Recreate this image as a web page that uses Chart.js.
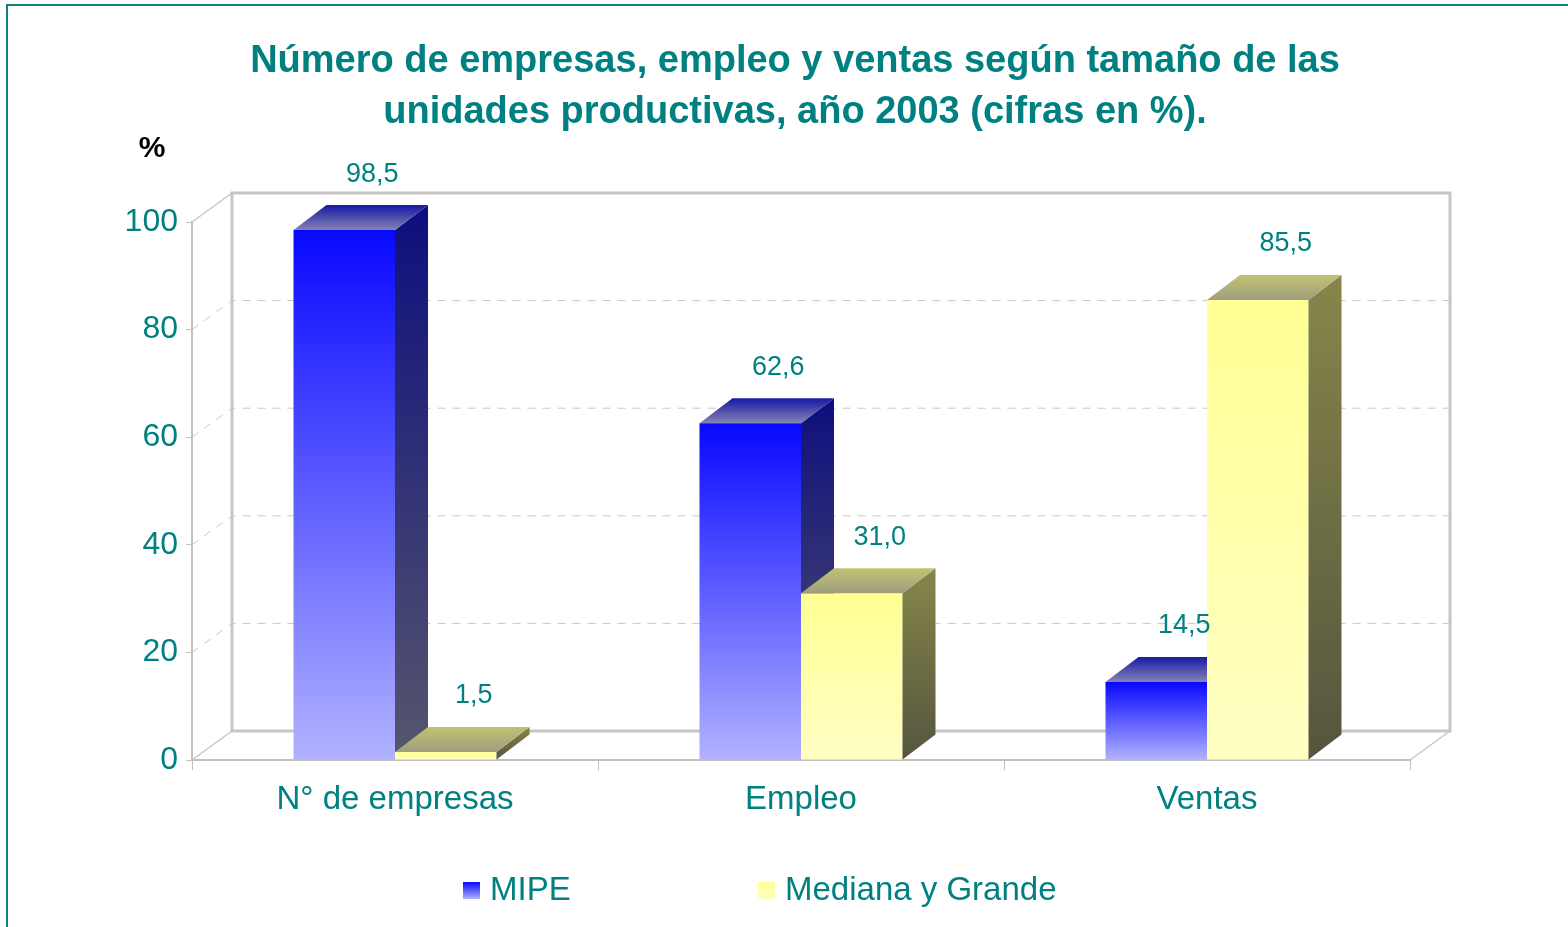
<!DOCTYPE html>
<html>
<head>
<meta charset="utf-8">
<script src="https://cdn.jsdelivr.net/npm/chart.js@4.4.0/dist/chart.umd.min.js"></script>
<style>
body{margin:0;overflow:hidden;background:#fff;}
#frame{position:absolute;left:6px;top:4px;width:1600px;height:1000px;border-left:2px solid #0f807d;border-top:2px solid #0f807d;}
#wrap{position:absolute;left:0;top:0;width:1568px;height:927px;}
</style>
</head>
<body>
<div id="frame"></div>
<div id="wrap"><canvas id="myChart" width="1568" height="927"></canvas></div>
<script>
// data
var categories = ['N° de empresas', 'Empleo', 'Ventas'];
var mipe = [98.5, 62.6, 14.5];
var medianaGrande = [1.5, 31.0, 85.5];
var seriesNames = ['MIPE', 'Mediana y Grande'];
var titleLines = ['Número de empresas, empleo y ventas según tamaño de las', 'unidades productivas, año 2003 (cifras en %).'];

var TEAL = '#008080';
var DX = 40, DY = -29;   // depth of the walls
var BX = 33, BY = -25;   // depth of the bars

// colours for each series: front (top, bottom), side (top, bottom), top face (back, front)
var looks = [
  {front: ['#0808ff', '#b2b2ff'], side: ['#0e0e7e', '#56566e'], top: ['#1818a6', '#8484b4']},
  {front: ['#ffff94', '#ffffc4'], side: ['#86864a', '#55553f'], top: ['#c2c272', '#9e9e80']}
];

function vGrad(ctx, y0, y1, c0, c1) {
  var g = ctx.createLinearGradient(0, y0, 0, y1);
  g.addColorStop(0, c0);
  g.addColorStop(1, c1);
  return g;
}

function frontColor(c) {
  var chart = c.chart;
  var y = chart.scales.y;
  if (!y || !chart.chartArea) return looks[c.datasetIndex].front[0];
  var top = y.getPixelForValue(c.raw), base = y.getPixelForValue(0);
  return vGrad(chart.ctx, top, base, looks[c.datasetIndex].front[0], looks[c.datasetIndex].front[1]);
}

function extrude(ctx, el, look) {
  var p = el.getProps(['x', 'y', 'base', 'width'], true);
  var x0 = p.x - p.width / 2, x1 = p.x + p.width / 2;
  var yt = p.y, yb = p.base;
  // side face
  ctx.beginPath();
  ctx.moveTo(x1, yt);
  ctx.lineTo(x1 + BX, yt + BY);
  ctx.lineTo(x1 + BX, yb + BY);
  ctx.lineTo(x1, yb);
  ctx.closePath();
  ctx.fillStyle = vGrad(ctx, yt + BY, yb, look.side[0], look.side[1]);
  ctx.fill();
  // top face
  ctx.beginPath();
  ctx.moveTo(x0, yt);
  ctx.lineTo(x1, yt);
  ctx.lineTo(x1 + BX, yt + BY);
  ctx.lineTo(x0 + BX, yt + BY);
  ctx.closePath();
  ctx.fillStyle = vGrad(ctx, yt + BY, yt, look.top[0], look.top[1]);
  ctx.fill();
}

var box3d = {
  id: 'box3d',
  beforeDatasetsDraw: function(chart) {
    var ctx = chart.ctx, a = chart.chartArea, y = chart.scales.y;
    var yTop = y.getPixelForValue(100), y0 = y.getPixelForValue(0);
    ctx.save();
    // dashed grid on side wall and back wall
    ctx.strokeStyle = '#c8c8c8';
    ctx.lineWidth = 1;
    ctx.setLineDash([8, 7]);
    for (var v = 20; v < 100; v += 20) {
      var py = y.getPixelForValue(v);
      ctx.beginPath();
      ctx.moveTo(a.left, py);
      ctx.lineTo(a.left + DX, py + DY);
      ctx.lineTo(a.right + DX, py + DY);
      ctx.stroke();
    }
    ctx.setLineDash([]);
    // back wall
    ctx.strokeStyle = '#c6c6c6';
    ctx.lineWidth = 3;
    ctx.beginPath();
    ctx.moveTo(a.left + DX, y0 + DY);
    ctx.lineTo(a.left + DX, yTop + DY);
    ctx.lineTo(a.right + DX, yTop + DY);
    ctx.lineTo(a.right + DX, y0 + DY);
    ctx.closePath();
    ctx.stroke();
    // side wall and floor edges
    ctx.lineWidth = 1.5;
    ctx.beginPath();
    ctx.moveTo(a.left, yTop);
    ctx.lineTo(a.left + DX, yTop + DY);
    ctx.moveTo(a.left, y0);
    ctx.lineTo(a.left + DX, y0 + DY);
    ctx.moveTo(a.right, y0);
    ctx.lineTo(a.right + DX, y0 + DY);
    ctx.stroke();
    // back faces of the first series sit behind the second series
    chart.getDatasetMeta(0).data.forEach(function(el) { extrude(ctx, el, looks[0]); });
    ctx.restore();
  },
  afterDatasetsDraw: function(chart) {
    var ctx = chart.ctx;
    ctx.save();
    chart.getDatasetMeta(1).data.forEach(function(el) { extrude(ctx, el, looks[1]); });
    // value labels
    ctx.fillStyle = TEAL;
    ctx.font = '27px "Liberation Sans", Arial, sans-serif';
    ctx.textAlign = 'center';
    ctx.textBaseline = 'middle';
    chart.data.datasets.forEach(function(ds, i) {
      chart.getDatasetMeta(i).data.forEach(function(el, j) {
        var p = el.getProps(['x', 'y'], true);
        ctx.fillText(ds.data[j].toFixed(1).replace('.', ','), p.x + 28, p.y - 56);
      });
    });
    ctx.restore();
  },
  afterDraw: function(chart) {
    var ctx = chart.ctx;
    ctx.save();
    ctx.textAlign = 'center';
    ctx.textBaseline = 'middle';
    ctx.fillStyle = TEAL;
    ctx.font = 'bold 38px "Liberation Sans", Arial, sans-serif';
    ctx.fillText(titleLines[0], 795, 62);
    ctx.fillText(titleLines[1], 795, 113);
    ctx.fillStyle = '#000';
    ctx.font = 'bold 30px "Liberation Sans", Arial, sans-serif';
    ctx.fillText('%', 152, 149);
    // legend
    var lx = [463, 758];
    ctx.textAlign = 'left';
    ctx.font = '33px "Liberation Sans", Arial, sans-serif';
    for (var i = 0; i < seriesNames.length; i++) {
      ctx.fillStyle = vGrad(ctx, 882, 899, looks[i].front[0], looks[i].front[1]);
      ctx.fillRect(lx[i], 882, 17, 17);
      ctx.fillStyle = TEAL;
      ctx.fillText(seriesNames[i], lx[i] + 27, 891);
    }
    ctx.restore();
  }
};

var ctx = document.getElementById('myChart').getContext('2d');
var chart = new Chart(ctx, {
  type: 'bar',
  data: {
    labels: categories,
    datasets: [
      {label: seriesNames[0], data: mipe, backgroundColor: frontColor, borderWidth: 0},
      {label: seriesNames[1], data: medianaGrande, backgroundColor: frontColor, borderWidth: 0}
    ]
  },
  options: {
    responsive: false,
    animation: false,
    categoryPercentage: 0.5,
    barPercentage: 1,
    layout: {padding: {left: 0, right: 158, top: 222, bottom: 0}},
    plugins: {legend: {display: false}, title: {display: false}, tooltip: {enabled: false}},
    scales: {
      x: {
        grid: {drawOnChartArea: false, tickLength: 10, color: '#c0c0c0', offset: true},
        border: {color: '#c0c0c0', width: 2},
        ticks: {color: TEAL, font: {size: 33, family: '"Liberation Sans", Arial, sans-serif'}, padding: 10},
        afterFit: function(s) { s.height = 167; }
      },
      y: {
        min: 0, max: 100,
        grid: {drawOnChartArea: false, tickLength: 6, color: '#c0c0c0'},
        border: {color: '#c0c0c0', width: 2},
        ticks: {stepSize: 20, color: TEAL, font: {size: 32, family: '"Liberation Sans", Arial, sans-serif'}, padding: 8},
        afterFit: function(s) { s.width = 192; }
      }
    }
  },
  plugins: [box3d]
});
</script>
</body>
</html>
